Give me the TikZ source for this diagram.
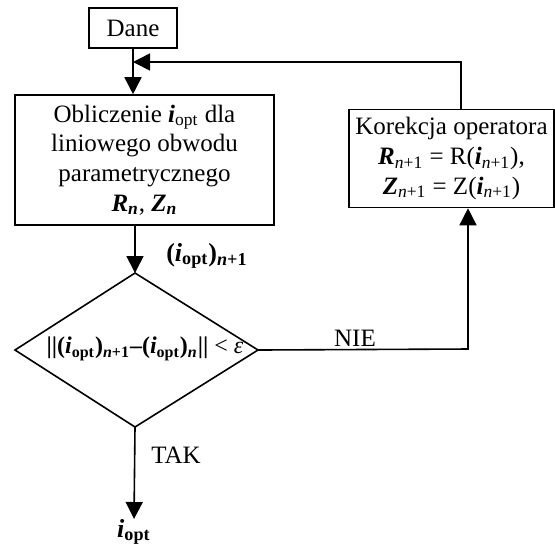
\documentclass[tikz,border=0pt]{standalone}
\usepackage{fontspec}
\setmainfont{Liberation Serif}
\usetikzlibrary{arrows.meta}
\newcommand{\bi}[1]{\textbf{\textit{#1}}}
\newcommand{\sbs}[1]{\textsubscript{#1}}
\begin{document}
\begin{tikzpicture}[x=0.5pt,y=-0.5pt,
  box/.style={draw, line width=0.8pt, inner sep=0pt, align=center, font=\fontsize{12.5}{14.8}\selectfont},
  conn/.style={line width=0.8pt},
  arr/.style={conn, -{Triangle[width=8.5pt,length=8.5pt]}},
  lbl/.style={inner sep=0pt, font=\fontsize{12.5}{14.8}\selectfont}]
\useasboundingbox (0,0) rectangle (555,543);
% nodes
\node[box, minimum width=44pt, minimum height=20pt] (dane) at (133,28) {Dane};
\node[box, minimum width=129.5pt, minimum height=65pt] (main) at (144.5,160)
  {Obliczenie \bi{i}\sbs{opt} dla\\liniowego obwodu\\parametrycznego\\\bi{R\sbs{n}}, \bi{Z\sbs{n}}};
\node[box, minimum width=102.5pt, minimum height=49pt] (kor) at (451.5,158.5)
  {Korekcja operatora\\\bi{R}\sbs{\textit{n}+1} = R(\bi{i}\sbs{\textit{n}+1}),\\\bi{Z}\sbs{\textit{n}+1} = Z(\bi{i}\sbs{\textit{n}+1})};
% diamond
\coordinate (dt) at (135,273);
\coordinate (dl) at (15,350);
\coordinate (dr) at (258,350);
\coordinate (db) at (135,427);
\draw[conn] (dt) -- (dr) -- (db) -- (dl) -- cycle;
\node[lbl, font=\fontsize{12}{14}\selectfont] (cond) at (145,349)
  {\textbf{||(\textit{i}\sbs{opt})\sbs{\textit{n}+1}--(\textit{i}\sbs{opt})\sbs{\textit{n}}||} < \textit{ε}};
% junction
\coordinate (j) at (133,62);
\coordinate (ktop) at (461,62);
\coordinate (kin) at (468,349);
\coordinate (out) at (134,519);
% connectors
\draw[arr] (dane.south) -- (dane.south |- main.north);
\draw[arr] (ktop |- kor.north) -- (ktop) -- (j);
\draw[arr] (dt |- main.south) -- (dt);
\draw[arr] (dr) -- (kin) -- (kin |- kor.south);
\draw[arr] (db) -- (out);
% labels
\node[lbl, font=\fontsize{13}{15}\selectfont\bfseries] (lin) at (207,256) {(\textit{i}\sbs{opt})\sbs{\textit{n}+1}};
\node[lbl] (nie) at (355,338) {NIE};
\node[lbl] (tak) at (176,455) {TAK};
\node[lbl, font=\fontsize{13}{15}\selectfont\bfseries] (res) at (134,532) {\textit{i}\sbs{opt}};
\end{tikzpicture}
\end{document}
